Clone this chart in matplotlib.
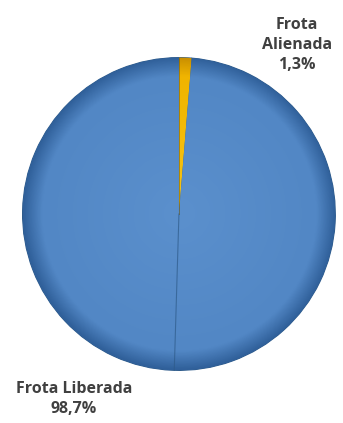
import numpy as np
import matplotlib.pyplot as plt
from matplotlib.colors import LinearSegmentedColormap

categorias = ['Frota Alienada', 'Frota Liberada']
valores = [1.3, 98.7]
rotulos = ['Frota\nAlienada\n1,3%', 'Frota Liberada\n98,7%']
cores = ['#F2B705', '#5589C7']
# shading from centre to rim, to mimic the 3D bevel of the original
degrades = [['#F7C515', '#F0B400', '#C98F00'],
            ['#5B90CD', '#5287C5', '#30609A']]

fig = plt.figure(figsize=(3.43, 4.23), dpi=100)
ax = fig.add_axes([0.0612, 0.1206, 0.921, 0.747])

wedges, _ = ax.pie(valores, colors=cores, startangle=90, counterclock=False,
                   wedgeprops={'edgecolor': '#2E5B8A', 'linewidth': 0.8})

xx, yy = np.meshgrid(np.linspace(-1, 1, 400), np.linspace(-1, 1, 400))
rr = np.sqrt(xx**2 + yy**2)
for w, cols in zip(wedges, degrades):
    cmap = LinearSegmentedColormap.from_list('g', list(zip([0, 0.88, 1.0], cols)))
    im = ax.imshow(np.clip(rr, 0, 1), cmap=cmap, vmin=0, vmax=1,
                   extent=(-1, 1, -1, 1), origin='lower', zorder=w.get_zorder() + 0.1)
    im.set_clip_path(w)

# seam line down the middle like the 3D original
ax.plot([0, -0.03], [0, -1.0], color='#2E5B8A', lw=0.8, alpha=0.7, zorder=5)
ax.plot([0, 0], [0, 1.0], color='#6B5000', lw=0.6, alpha=0.6, zorder=5)
ax.set_xlim(-1.01, 1.01)
ax.set_ylim(-1.01, 1.01)
ax.set_aspect('equal')
ax.axis('off')

fig.text(297/343, 1 - 45/423, rotulos[0], ha='center', va='center',
         fontsize=11.5, fontweight='bold', color='#404040', family='Open Sans',
         linespacing=1.3)
fig.text(74/343, 1 - 399/423, rotulos[1], ha='center', va='center',
         fontsize=11.5, fontweight='bold', color='#404040', family='Open Sans',
         linespacing=1.3)

fig.savefig('out.png', dpi=100, facecolor='white')
